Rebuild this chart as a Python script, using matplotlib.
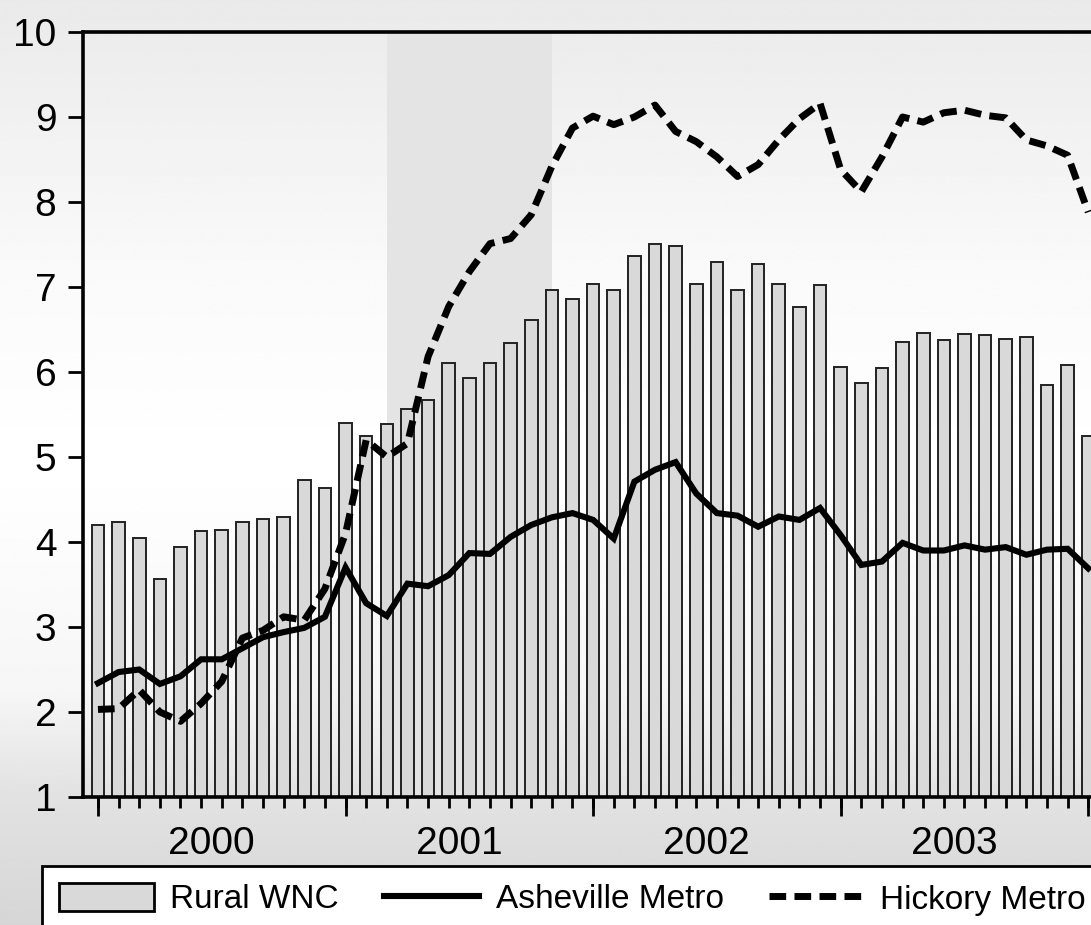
import numpy as np
import matplotlib
matplotlib.use('Agg')
import matplotlib.pyplot as plt
from matplotlib.patches import Patch
from matplotlib.lines import Line2D

# ---- data (monthly, Jan 2000 .. Jan 2004) ----
month_index = list(range(49))
rural_wnc = [4.20, 4.23, 4.05, 3.57, 3.94, 4.13, 4.14, 4.24, 4.27, 4.29,
             4.73, 4.63, 5.40, 5.25, 5.39, 5.56, 5.67, 6.11, 5.93, 6.11,
             6.34, 6.61, 6.96, 6.86, 7.04, 6.97, 7.37, 7.51, 7.48, 7.03,
             7.29, 6.97, 7.27, 7.03, 6.76, 7.02, 6.06, 5.87, 6.05, 6.35,
             6.46, 6.38, 6.45, 6.43, 6.39, 6.41, 5.85, 6.08, 5.25]
asheville = [2.34, 2.47, 2.50, 2.33, 2.42, 2.62, 2.62, 2.75, 2.88, 2.94,
             2.99, 3.12, 3.70, 3.28, 3.13, 3.51, 3.48, 3.61, 3.87, 3.86,
             4.06, 4.20, 4.29, 4.34, 4.26, 4.04, 4.71, 4.85, 4.94, 4.57,
             4.34, 4.31, 4.18, 4.30, 4.26, 4.40, 4.08, 3.73, 3.77, 3.99,
             3.90, 3.90, 3.96, 3.91, 3.94, 3.85, 3.91, 3.92, 3.69]
hickory = [2.03, 2.04, 2.26, 2.00, 1.89, 2.10, 2.36, 2.87, 2.96, 3.12,
           3.08, 3.45, 4.10, 5.20, 5.00, 5.16, 6.18, 6.77, 7.18, 7.51,
           7.57, 7.85, 8.42, 8.87, 9.01, 8.91, 9.00, 9.14, 8.83, 8.71,
           8.53, 8.30, 8.44, 8.73, 8.98, 9.16, 8.38, 8.12, 8.53, 9.00,
           8.94, 9.05, 9.08, 9.02, 8.99, 8.73, 8.66, 8.55, 7.88]
year_labels = ['2000', '2001', '2002', '2003']
year_starts = [0, 12, 24, 36, 48]
recession = (14, 22)   # Mar 2001 .. Nov 2001
y_ticks = list(range(1, 11))

W, H = 1091, 925
fig = plt.figure(figsize=(W / 100, H / 100), dpi=100)
plt.rcParams['font.family'] = ['Liberation Sans', 'DejaVu Sans']

# background gradient
bg = fig.add_axes([0, 0, 1, 1], zorder=-5)
stops_y = [0.0, 0.30, 0.50, 0.75, 0.86, 1.0]
stops_v = [234, 250, 255, 246, 226, 214]
yy = np.linspace(0, 1, 400)
grad = np.interp(yy, stops_y, stops_v)[:, None]
bg.imshow(grad, aspect='auto', cmap='gray', vmin=0, vmax=255,
          extent=[0, 1, 1, 0], interpolation='bilinear')
bg.set_xlim(0, 1)
bg.set_ylim(1, 0)
bg.axis('off')

left_px, right_px = 82.7, 1102.7
bottom_px, top_px = 797, 32
ax = fig.add_axes([left_px / W, 1 - bottom_px / H,
                   (right_px - left_px) / W, (bottom_px - top_px) / H])
ax.set_facecolor('none')

x = np.array(month_index)
ax.axvspan(recession[0], recession[1], color='#e4e4e4', zorder=0, lw=0)
ax.bar(x, np.array(rural_wnc) - 1, bottom=1, width=0.61, color='#d9d9d9',
       edgecolor='#222222', linewidth=1.4, zorder=2)
ax.plot(x, asheville, color='black', lw=4.4, solid_joinstyle='miter', zorder=3)
ax.plot(x, hickory, color='black', lw=5.0, dashes=(2.4, 1.2), zorder=4)

ax.set_xlim(-0.74, 48.7)
ax.set_ylim(1, 10)

for s in ['left', 'top', 'bottom', 'right']:
    ax.spines[s].set_linewidth(2.6)
    ax.spines[s].set_color('black')

ax.set_yticks(y_ticks)
ax.set_yticklabels([str(v) for v in y_ticks], fontsize=28)
ax.tick_params(axis='y', direction='out', length=11, width=2.0, pad=8)

mid_years = [s + 5.5 for s in year_starts[:-1]]
ax.set_xticks(mid_years)
ax.set_xticklabels(year_labels, fontsize=28)
ax.set_xticks(month_index, minor=True)
ax.tick_params(axis='x', which='major', length=0, pad=21)
ax.tick_params(axis='x', which='minor', direction='out', length=8, width=2.0)

sec = ax.secondary_xaxis('bottom')
sec.set_xticks(year_starts)
sec.set_xticklabels([])
sec.tick_params(length=14, width=2.0, direction='out')
sec.spines['bottom'].set_visible(False)

handles = [Patch(facecolor='#d9d9d9', edgecolor='black', linewidth=2.0),
           Line2D([], [], color='black', lw=4.4),
           Line2D([], [], color='black', lw=5.0, dashes=(2.4, 1.2))]
leg = fig.legend(handles, ['Rural WNC', 'Asheville Metro', 'Hickory Metro'],
                 loc='upper left', bbox_to_anchor=(42 / W, 1 - 866 / H),
                 ncol=3, fontsize=24, frameon=True, fancybox=False,
                 edgecolor='black', facecolor='white', framealpha=1,
                 handlelength=2.85, handleheight=0.95, handletextpad=0.5,
                 columnspacing=1.35, borderpad=0.5, borderaxespad=0)
leg.get_frame().set_linewidth(2.0)

fig.savefig('out.png', dpi=100)
